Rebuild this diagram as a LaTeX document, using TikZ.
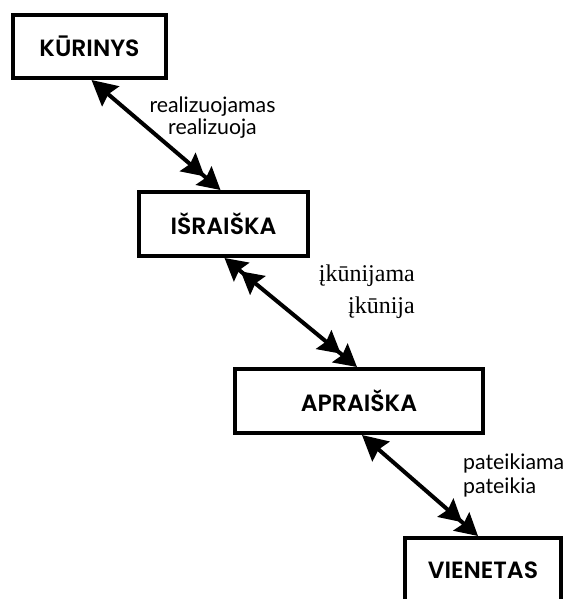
\documentclass[tikz,border=0pt]{standalone}
\usepackage{fontspec}
\usetikzlibrary{arrows.meta}
\newfontfamily\boxfont{Poppins SemiBold}
\newfontfamily\lblfont{Lato}
\newfontfamily\serifl{Liberation Serif}
\tikzset{
  x=1pt, y=-1pt,
  entity/.style={draw, line width=4pt, fill=white, inner sep=0pt,
    font=\boxfont\fontsize{23.5}{26}\selectfont},
  onehead/.tip={Stealth[length=25pt,width=26pt,inset=3pt]},
  twohead/.tip={Stealth[length=22pt,width=24pt,inset=3pt,sep=-1pt]Stealth[length=22pt,width=24pt,inset=3pt]},
  rel/.style={line width=4pt},
  lbl/.style={inner sep=0pt, font=\lblfont\fontsize{21.3}{26}\selectfont},
  slbl/.style={inner sep=0pt, font=\serifl\fontsize{24}{30}\selectfont},
}
\begin{document}
\begin{tikzpicture}
\useasboundingbox (0,0) rectangle (566,599);
\clip (0,0) rectangle (566,599);
% boxes
\node[entity, minimum width=153pt, minimum height=63pt] (k) at (89.5,46.5) {KŪRINYS};
\node[entity, minimum width=169pt, minimum height=64pt] (i) at (223.5,224) {IŠRAIŠKA};
\node[entity, minimum width=248pt, minimum height=64pt] (a) at (359,401) {APRAIŠKA};
\node[entity, minimum width=156pt, minimum height=64pt] (v) at (483,570) {VIENETAS};
% connectors
\draw[rel, {onehead}-{twohead}] ([xshift=2pt]k.south) -- ([xshift=-3pt]i.north);
\draw[rel, {twohead}-{twohead}] ([xshift=1pt]i.south) -- ([xshift=-2pt]a.north);
\draw[rel, {onehead}-{twohead}] ([xshift=3pt]a.south) -- ([xshift=-5pt]v.north);
% labels
\node[lbl, anchor=base] (l1) at (212.5,113) {realizuojamas};
\node[lbl, anchor=base] (l2) at (212.5,135) {realizuoja};
\node[slbl, anchor=base east] (l3) at (415,281) {įkūnijama};
\node[slbl, anchor=base east] (l4) at (415,313) {įkūnija};
\node[lbl, anchor=base west] (l5) at (463,469) {pateikiama};
\node[lbl, anchor=base west] (l6) at (463,493) {pateikia};
\end{tikzpicture}
\end{document}
